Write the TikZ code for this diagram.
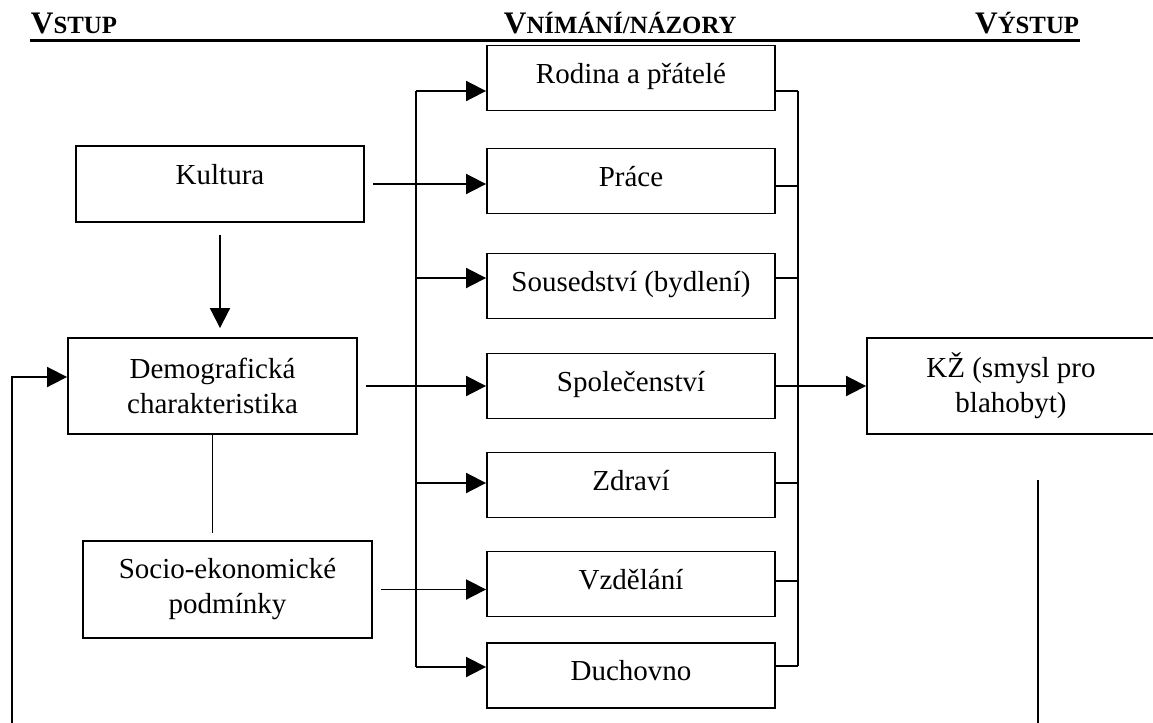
\documentclass[tikz,border=0pt]{standalone}
\usepackage{fontspec}
\setmainfont{Liberation Serif}
\usetikzlibrary{arrows.meta}

\newcommand\boxfont{\fontsize{21.75}{26.25}\selectfont}
\newcommand\hdbig{\fontsize{23.5}{28}\selectfont\bfseries}
\newcommand\hdsmall{\fontsize{18.6}{21}\selectfont\bfseries}

\tikzset{every picture/.style={line width=1.4pt},
  box/.style={draw, line width=1.4pt, minimum width=216pt, minimum height=48.75pt,
    inner sep=0pt, font=\boxfont, align=center},
  cell/.style={box, text height=15pt, text depth=7.5pt},
  arr/.style={-{Triangle[length=15pt,width=15pt]}}}

\begin{document}
\begin{tikzpicture}[x=0.75pt,y=0.75pt,yscale=-1,xscale=1]
\useasboundingbox (0,0) rectangle (1153,722);

% Text Node
\draw (30,33) node (hin) [anchor=base west][inner sep=0pt] {\hdbig V\hdsmall STUP};
% Text Node
\draw (503,33) node (hview) [anchor=base west][inner sep=0pt] {\hdbig V\hdsmall NÍMÁNÍ/NÁZORY};
% Text Node
\draw (1080,33) node (hout) [anchor=base east][inner sep=0pt] {\hdbig V\hdsmall ÝSTUP};
%Straight Lines
\draw [line width=2.25pt] (hin.base west |- 0,40) -- (hout.base east |- 0,40);

%Shape: Rectangle
\draw (220,184) node (kultura) [cell, text depth=15pt, minimum height=57pt] {Kultura};
%Shape: Rectangle
\draw (212.5,386) node (demo) [box, minimum width=216.75pt, minimum height=72pt] {Demografická\\charakteristika};
%Shape: Rectangle
\draw (227.5,589.5) node (socio) [box, minimum width=216.75pt, minimum height=72.75pt] {Socio-ekonomické\\podmínky};

%Shape: Rectangle
\draw (631,78) node (rodina) [cell] {Rodina a přátelé};
%Shape: Rectangle
\draw (631,181) node (prace) [cell] {Práce};
%Shape: Rectangle
\draw (631,286) node (soused) [cell] {Sousedství (bydlení)};
%Shape: Rectangle
\draw (631,386) node (spol) [cell] {Společenství};
%Shape: Rectangle
\draw (631,485) node (zdravi) [cell] {Zdraví};
%Shape: Rectangle
\draw (631,584) node (vzdel) [cell] {Vzdělání};
%Shape: Rectangle
\draw (631,675.5) node (duch) [cell] {Duchovno};

%Shape: Rectangle
\draw (1011,386) node (kz) [box, minimum height=72pt] {KŽ (smysl pro\\blahobyt)};

% bus taps
\coordinate (l1) at (416,91);
\coordinate (l3) at (416,278);
\coordinate (l5) at (416,483);
\coordinate (l7) at (416,667);
\coordinate (r1) at (798,91);
\coordinate (r2) at (798,186);
\coordinate (r3) at (798,278);
\coordinate (r4) at (798,386);
\coordinate (r5) at (798,483);
\coordinate (r6) at (798,581);
\coordinate (r7) at (798,666);
\coordinate (lfoot) at (12,724);
\coordinate (rtop) at (1038,480);
\coordinate (rfoot) at (1038,724);

%Straight Lines
\draw [arr, shorten <=9pt, shorten >=6.75pt] (kultura.south) -- (kultura.south |- demo.north);
\draw [shorten >=5pt] (demo.south) -- (demo.south |- socio.north);
\draw [arr] (lfoot) |- ([yshift=-6.75pt]demo.west);

%Straight Lines
\draw (l1) -- (l7);
\draw [arr] (l1) -- (l1 -| rodina.west);
\draw [arr, shorten <=6pt] (kultura.east) -- (kultura.east -| prace.west);
\draw [arr] (l3) -- (l3 -| soused.west);
\draw [arr, shorten <=6pt] (demo.east) -- (demo.east -| spol.west);
\draw [arr] (l5) -- (l5 -| zdravi.west);
\draw [arr, shorten <=6pt] (socio.east) -- (socio.east -| vzdel.west);
\draw [arr] (l7) -- (l7 -| duch.west);

%Straight Lines
\draw (r1) -- (r7);
\draw (rodina.east |- r1) -- (r1);
\draw (prace.east |- r2) -- (r2);
\draw (soused.east |- r3) -- (r3);
\draw (spol.east |- r4) -- (r4);
\draw (zdravi.east |- r5) -- (r5);
\draw (vzdel.east |- r6) -- (r6);
\draw (duch.east |- r7) -- (r7);
\draw [arr] (r4) -- (r4 -| kz.west);

%Straight Lines
\draw (rtop) -- (rfoot);

\end{tikzpicture}
\end{document}
